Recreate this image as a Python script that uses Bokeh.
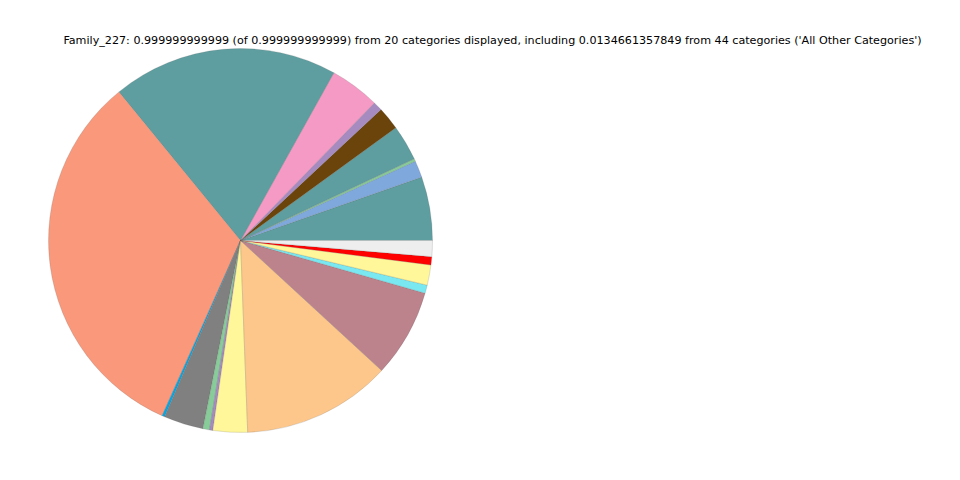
from bokeh.plotting import figure
from bokeh.models import Range1d, ColumnDataSource
from bokeh.embed import file_html
from bokeh.resources import INLINE
from bokeh.core.properties import value
import math

categories = ["Cat_1", "Cat_2", "Cat_3", "Cat_4", "Cat_5", "Cat_6", "Cat_7", "Cat_8",
              "Cat_9", "Cat_10", "Cat_11", "Cat_12", "Cat_13", "Cat_14", "Cat_15",
              "Cat_16", "Cat_17", "Cat_18", "Cat_19", "All Other Categories"]
values = [0.0536, 0.0142, 0.0022, 0.0300, 0.0194, 0.0078, 0.0420, 0.1900,
          0.3240, 0.0022, 0.0334, 0.0055, 0.0028, 0.0290, 0.1256,
          0.0742, 0.0069, 0.0170, 0.0069, 0.0134661357849]
colors = ["#5F9EA0", "#7FA8DC", "#88CC99", "#5F9EA0", "#6B440C", "#A68BC0", "#F49AC4", "#5F9EA0",
          "#F9987A", "#00A8E8", "#808080", "#88CC99", "#A68BC0", "#FFF799", "#FDC78B",
          "#BC838D", "#7AE8F0", "#FFF799", "#FF0000", "#EEEEEE"]
title_text = ("Family_227: 0.999999999999 (of 0.999999999999) from 20 categories displayed, "
              "including 0.0134661357849 from 44 categories ('All Other Categories')")

total = sum(values)
starts, ends = [], []
acc = 0.0
for v in values:
    starts.append(2 * math.pi * acc / total)
    acc += v
    ends.append(2 * math.pi * acc / total)

W, H = 944, 464
src = ColumnDataSource(dict(cat=categories, val=values, color=colors, start=starts, end=ends))

p = figure(width=W, height=H, output_backend="svg", toolbar_location=None,
           x_range=Range1d(0, W), y_range=Range1d(0, H), min_border=0)
p.axis.visible = False
p.grid.visible = False
p.outline_line_color = None

p.wedge(x=240, y=H - 240, radius=192, start_angle="start", end_angle="end",
        fill_color="color", line_color="#555555", line_alpha=0.35, line_width=0.5, source=src)

p.text(x=[492], y=[H - 40], text=[title_text], text_align="center", text_baseline="middle",
       text_font=value("DejaVu Sans"), text_font_size="11.15px", text_color="#000000")

open("out.html", "w").write(file_html(p, INLINE))
